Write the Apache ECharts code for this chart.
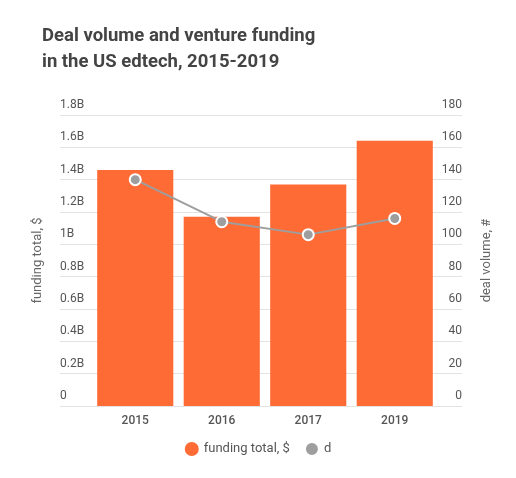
<!DOCTYPE html>
<html>
<head>
<meta charset="utf-8">
<script src="https://cdn.jsdelivr.net/npm/echarts@6/dist/echarts.min.js"></script>
<style>
  html, body { margin: 0; padding: 0; background: #fff; }
  #chart { width: 516px; height: 478px; }
</style>
</head>
<body>
<div id="chart"></div>
<script>
// chart data
var years = ['2015', '2016', '2017', '2019'];
var funding = [1.46e9, 1.17e9, 1.37e9, 1.64e9];   // funding total, $
var deals = [140, 114, 106, 116];                 // deal volume, #
var seriesNames = ['funding total, $', 'd'];

var BAR_COLOR = '#ff6b35';
var LINE_COLOR = '#9e9e9e';
var TEXT_COLOR = '#555';

function fmtBillions(v) {
    if (v == 0) return '0';
    return Math.round(v / 1e8) / 10 + 'B';
}

var myChart = echarts.init(document.getElementById('chart'));

var option = {
    backgroundColor: '#fff',
    animation: false,
    textStyle: { fontFamily: 'Roboto' },
    title: {
        text: 'Deal volume and venture funding\nin the US edtech, 2015-2019',
        left: 37,
        top: 18,
        textStyle: {
            fontFamily: 'Roboto',
            fontSize: 18.5,
            fontWeight: 'bold',
            color: '#444',
            lineHeight: 26
        }
    },
    legend: {
        data: seriesNames,
        bottom: 16,
        left: 'center',
        icon: 'circle',
        itemWidth: 14,
        itemHeight: 14,
        itemGap: 14,
        textStyle: { color: TEXT_COLOR, fontSize: 13 }
    },
    grid: [
        // wide grid: only carries the split lines and axis labels
        { left: 60, right: 54, top: 115, bottom: 72 },
        // narrow grid: the bars and the line
        { left: 92, right: 78, top: 115, bottom: 72 }
    ],
    xAxis: [
        { type: 'category', gridIndex: 0, data: years, show: false },
        {
            type: 'category', gridIndex: 1, data: years,
            axisLine: { show: false },
            axisTick: { show: false },
            axisLabel: { color: TEXT_COLOR, fontSize: 12, fontWeight: 500, margin: 9 }
        }
    ],
    yAxis: [
        {
            type: 'value', gridIndex: 0, position: 'left',
            min: 0, max: 1.8e9, interval: 0.2e9,
            name: 'funding total, $',
            nameLocation: 'middle',
            nameGap: 16,
            nameTextStyle: { color: '#666', fontSize: 13 },
            axisLine: { show: false },
            axisTick: { show: false },
            splitLine: { lineStyle: { color: '#e3e3e3' } },
            axisLabel: {
                inside: true, margin: 0, color: TEXT_COLOR, fontSize: 12,
                verticalAlign: 'bottom', padding: [0, 0, 4, 0],
                formatter: fmtBillions
            }
        },
        {
            type: 'value', gridIndex: 0, position: 'right',
            min: 0, max: 180, interval: 20,
            name: 'deal volume, #',
            nameLocation: 'middle',
            nameGap: 18,
            nameTextStyle: { color: '#666', fontSize: 13 },
            axisLine: { show: false },
            axisTick: { show: false },
            splitLine: { show: false },
            axisLabel: {
                inside: true, margin: 0, color: TEXT_COLOR, fontSize: 12,
                verticalAlign: 'bottom', padding: [0, 0, 4, 0]
            }
        },
        { type: 'value', gridIndex: 1, min: 0, max: 1.8e9, show: false },
        { type: 'value', gridIndex: 1, min: 0, max: 180, show: false }
    ],
    series: [
        {
            name: seriesNames[0],
            type: 'bar',
            xAxisIndex: 1,
            yAxisIndex: 2,
            data: funding,
            barCategoryGap: '12%',
            itemStyle: { color: BAR_COLOR }
        },
        {
            name: seriesNames[1],
            type: 'line',
            xAxisIndex: 1,
            yAxisIndex: 3,
            data: deals,
            symbol: 'circle',
            symbolSize: 11,
            z: 5,
            lineStyle: { color: LINE_COLOR, width: 2 },
            itemStyle: { color: LINE_COLOR, borderColor: '#fff', borderWidth: 2 }
        }
    ]
};

myChart.setOption(option);
</script>
</body>
</html>
